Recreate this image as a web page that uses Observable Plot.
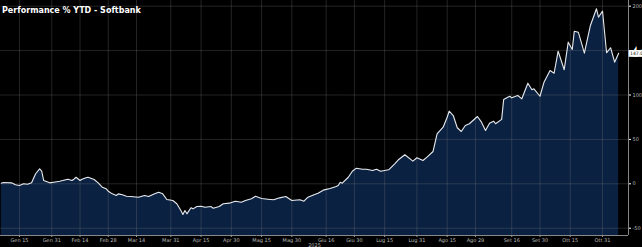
<!DOCTYPE html>
<html>
<head>
<meta charset="utf-8">
<script src="https://cdn.jsdelivr.net/npm/d3@7"></script>
<script src="https://cdn.jsdelivr.net/npm/@observablehq/plot@0.6"></script>
<style>
  html, body { margin: 0; padding: 0; background: #000; }
  #wrap { position: relative; width: 642px; height: 247px; overflow: hidden; }
  #title { position: absolute; left: 2px; top: 7px; font: bold 8px "DejaVu Sans", sans-serif; line-height: 1; color: #fff; white-space: nowrap; }
</style>
</head>
<body>
<div id="wrap"><div id="title">Performance % YTD - Softbank</div></div>
<script>
const title = "Performance % YTD - Softbank";
const year = "2025";
const lastLabel = "147.0";

const dates = [
  "01-06","01-07","01-11","01-13","01-15","01-17","01-19","01-21","01-23","01-25",
  "01-26","01-27","01-30","02-01","02-04","02-08","02-10","02-11","02-12","02-14",
  "02-15","02-17","02-18","02-21","02-23","02-25","02-27","02-28","03-02","03-04",
  "03-05","03-07","03-09","03-11","03-15","03-18","03-20","03-23","03-25","03-27",
  "03-29","04-01","04-03","04-05","04-06","04-07","04-08","04-10","04-11","04-13",
  "04-15","04-17","04-20","04-21","04-24","04-26","04-29","05-02","05-05","05-07",
  "05-10","05-12","05-15","05-18","05-21","05-24","05-27","05-30","06-03","06-05",
  "06-07","06-10","06-12","06-15","06-18","06-21","06-22","06-23","06-24","06-27",
  "06-29","07-01","07-04","07-06","07-09","07-11","07-13","07-17","07-20","07-22",
  "07-25","07-29","07-31","08-03","08-05","08-08","08-10","08-13","08-15","08-16",
  "08-18","08-20","08-22","08-24","08-26","08-30","09-01","09-03","09-05","09-07",
  "09-08","09-11","09-12","09-15","09-16","09-19","09-21","09-24","09-26","09-27",
  "09-30","10-02","10-05","10-07","10-09","10-12","10-14","10-16","10-17","10-19",
  "10-22","10-25","10-28","10-29","10-31","11-02","11-04","11-06","11-08"
];
const values = [
  0.7, 1.5, 1.1, -1.1, -1.9, 0, -0.5, 1.1, 11.3, 16.9,
  14.2, 3.7, 1.1, 1.8, 2.9, 5.2, 3.7, 5.2, 7.4, 3.7,
  5.2, 6.8, 7.4, 4.8, 1.1, -3.8, -5.6, -8.3, -11.3, -13.2,
  -11.3, -12.4, -14.0, -14.3, -15.1, -13.2, -14.3, -11.3, -9.5, -11.3,
  -17.7, -18.8, -22.5, -30.1, -34.6, -30.1, -33.8, -27.0, -28.2, -25.6,
  -25.2, -26.4, -25.6, -27.5, -25.6, -22.5, -21.8, -19.6, -20.7, -18.8,
  -16.9, -14.1, -16.6, -17.3, -18.0, -15.8, -14.3, -18.8, -18.0, -19.6,
  -15.1, -12.4, -10.6, -6.8, -5.3, -3.0, -1.9, 1.8, 0.7, 7.4,
  14.2, 17.6, 16.4, 16.4, 15.0, 16.4, 14.2, 15.8, 22.5, 27.4,
  32.7, 25.5, 29.3, 26.2, 30.0, 36.4, 56.3, 63.7, 75.0, 81.8,
  76.9, 63.1, 58.9, 65.7, 67.6, 75.8, 69.4, 60.0, 68.2, 70.5,
  67.6, 72.5, 95.0, 98.6, 96.8, 99.4, 95.7, 113.3, 105.9, 107.0,
  98.6, 114.4, 127.6, 124.5, 149.3, 128.4, 159.5, 151.2, 171.8, 170.7,
  147.1, 178.3, 197.1, 187.6, 194.4, 147.5, 153.2, 136.9, 147.0
];
const tickDates = ["01-15","01-31","02-14","02-28","03-14","03-31","04-15","04-30","05-15","05-30",
  "06-16","06-30","07-15","07-31","08-15","08-29","09-16","09-30","10-15","10-31"];
const tickLabels = ["Gen 15","Gen 31","Feb 14","Feb 28","Mar 14","Mar 31","Apr 15","Apr 30","Mag 15","Mag 30",
  "Giu 16","Giu 30","Lug 15","Lug 31","Ago 15","Ago 29","Set 16","Set 30","Ott 15","Ott 31"];
const yTicks = [-50, 0, 50, 100, 150, 200];
// the 150 label sits under the last-value tag in the reference
const hiddenYLabel = 150;

const parse = s => new Date("2025-" + s + "T00:00:00Z");
const data = dates.map((d, i) => ({date: parse(d), value: values[i]}));
const ticks = tickDates.map(parse);
const labelOf = new Map(ticks.map((t, i) => [+t, tickLabels[i]]));

const xDomain = [new Date(Date.UTC(2025, 0, 5, 14)), new Date(Date.UTC(2025, 10, 12, 21))];
const yDomain = [-58.2, 206.4];
const xMid = new Date((+xDomain[0] + +xDomain[1]) / 2);
const last = data[data.length - 1];

const chart = Plot.plot({
  width: 642, height: 247,
  marginLeft: 0, marginRight: 14, marginTop: 0, marginBottom: 12,
  style: {background: "#000", color: "#bbb", fontFamily: "DejaVu Sans, sans-serif", fontSize: "5px", overflow: "visible"},
  x: {type: "utc", domain: xDomain, axis: null},
  y: {domain: yDomain, axis: null},
  marks: [
    Plot.areaY(data, {x: "date", y1: yDomain[0], y2: "value", fill: "#0a2142"}),
    Plot.gridX(ticks, {stroke: "#777", strokeOpacity: 0.3}),
    Plot.gridY(yTicks, {stroke: "#777", strokeOpacity: 0.3}),
    Plot.lineY(data, {x: "date", y: "value", stroke: "#e8e8e8", strokeWidth: 1.1}),
    Plot.ruleY([yDomain[0]], {stroke: "#888"}),
    Plot.ruleX([xDomain[1]], {stroke: "#888"}),
    Plot.axisX(ticks, {anchor: "bottom", label: null, tickSize: 2, tickPadding: 1, stroke: "#999", fill: "#bbb", fontSize: 5, tickFormat: d => labelOf.get(+d)}),
    Plot.axisY(yTicks, {anchor: "right", label: null, tickSize: 2, tickPadding: 2, stroke: "#fff", fill: "#bbb", fontSize: 5, tickFormat: d => d === hiddenYLabel ? "" : String(d)}),
    Plot.text([year], {x: xMid, y: yDomain[0], dy: 10, fill: "#bbb", fontSize: 5}),
    Plot.text([lastLabel], {x: xDomain[1], y: last.value, dx: 1.5, textAnchor: "start", fill: "#111", fontSize: 4.6, stroke: "#fff", strokeWidth: 3.5, strokeLinejoin: "miter"})
  ]
});
document.getElementById("wrap").prepend(chart);
</script>
</body>
</html>
